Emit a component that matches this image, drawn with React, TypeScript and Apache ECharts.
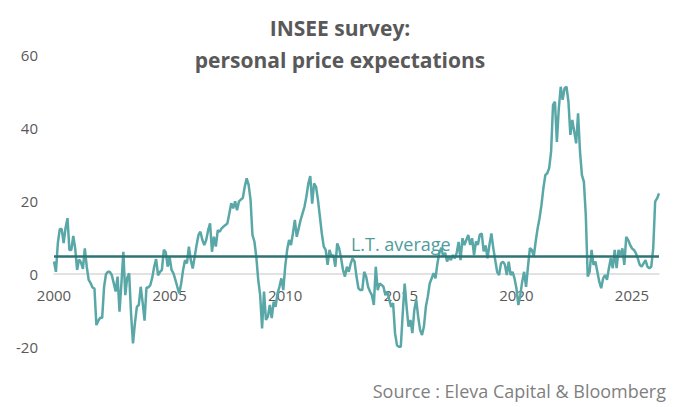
import React, { useEffect, useRef } from 'react';
import * as echarts from 'echarts';

// INSEE household survey, personal price expectations (balance of opinion), monthly from Jan 2000
const START_YEAR = 2000;
const PRICE_EXPECTATIONS: number[] = [
  3.4, 0.6, 8.5, 12.3, 12.3, 8.5, 12.6, 15.3, 6.6, 6.6, 10.4, 7, // 2000
  1.1, 4, 3.2, 1.4, 7, 2, -1.6, -2.5, -3.7, -4, -14, -12.8, // 2001
  -12, -12, -3.5, 0, 0.6, 0.6, -0.3, -2.5, -4.8, -0.7, -10.3, -2.5, // 2002
  6.1, -5.8, -1, 0.2, -11, -19, -13.5, -9, -8.5, -3.5, -7.8, -12.8, // 2003
  -3.7, -3.7, -3, -1, 2, 4.1, -0.4, 0.6, 1.1, 6.6, 6, 2, // 2004
  4.7, 1.1, 0.2, -1.6, -3.5, -5.3, -2.6, 1.1, 3.8, 2.9, 7.5, 3.8, // 2005
  1.5, 4.7, 7.9, 10.7, 11.6, 9.3, 7.9, 9.3, 12, 13.9, 6.1, 10.2, // 2006
  7.5, 12, 11.6, 12.5, 13, 13.4, 13.9, 16.6, 19.4, 18, 19.9, 17.5, // 2007
  19.9, 20.4, 20.8, 23.9, 26.2, 24.4, 20.4, 10.7, 8.9, 4.7, -1.6, -5.8, // 2008
  -14.9, -4.8, -12.6, -11.7, -8.5, -12.1, -7.6, -9, -5.3, -3.5, -1.2, -4.4, // 2009
  2, 6.6, 9.3, 7.9, 11.1, 14.8, 10.2, 12.5, 14.8, 16.6, 18.4, 21.2, // 2010
  24.8, 26.8, 19.3, 24.8, 23.9, 20.3, 15.7, 11.1, 7.5, 6.6, 2.5, 6.6, // 2011
  4.7, 5.2, 2, 8.4, 7, 4.3, 1.1, -0.7, 2, 0.6, 2.9, 4.3, // 2012
  3.4, -0.7, -3.9, -4.4, -4.4, 0.6, -0.7, -3.5, -4.8, -5.8, -8.5, 2, // 2013
  -4.4, -2.6, -3, -3.5, -5.8, -4.8, -7, -9, -8, -16.2, -19.5, -19.9, // 2014
  -19.9, -10.8, -2.6, -9, -14.4, -12.6, -16.2, -9.9, -7, -11.7, -15.3, -16.7, // 2015
  -14.4, -9, -6.2, -2.6, -1.2, 0.2, -1.2, 2.9, 5.8, 7.2, 4.8, 5.8, // 2016
  3.4, 4.8, 3.8, 5.2, 4.3, 5.8, 8.8, 3.8, 9.8, 7.9, 9.3, 10.7, // 2017
  8, 9.8, 5.2, 8.9, 8, 10.8, 11.1, 6.2, 7.8, 4.3, 8, 11.1, // 2018
  7.1, 3.8, 0.6, -0.3, 2.9, 3.4, 2.6, -0.3, 3.4, -0.3, 0.6, -1.2, // 2019
  -3.9, -8.5, -5.8, -2.1, 0.6, -3.5, 2, 7.1, 6.6, 4.8, 8.9, 12.5, // 2020
  15.3, 18.9, 23.5, 27.1, 27.6, 29, 33.5, 46.3, 47.2, 36.2, 45.4, 51.3, // 2021
  47.7, 50.9, 51.3, 47.2, 38.1, 42.2, 39, 35.8, 44, 33.5, 27.1, 25.3, // 2022
  16.2, -0.7, 0.6, 6.6, 2.5, 3.4, 0.6, -2.1, -3.9, -1.2, -0.3, -1.6, // 2023
  1.6, 4.3, 1.6, 6.6, 1.6, 6.6, 5.2, 7, 2.5, 10.2, 9.3, 8, // 2024
  7, 6.6, 5.7, 4.3, 2.5, 2, 2.9, 3.8, 2, 1.6, 2, 7, // 2025
  19.8, 20.7, 22.1, // 2026
];
const LT_AVERAGE = 5;

const Y_MIN = -20;
const Y_MAX = 60;
const Y_STEP = 20;

const MONTHS: string[] = PRICE_EXPECTATIONS.map((_, i) => {
  const y = START_YEAR + Math.floor(i / 12);
  const m = (i % 12) + 1;
  return `${y}-${m < 10 ? '0' + m : m}`;
});
const LABEL_EVERY = 60; // one x label every 5 years
const AVG_LABEL_AT = MONTHS[180];

const FONT = '"Open Sans", sans-serif';

const WIDTH = 680;
const HEIGHT = 407;
const GRID = { left: 54, right: 21, top: 55, bottom: 60 };

export default function App() {
  const chartRef = useRef<HTMLDivElement>(null);

  useEffect(() => {
    if (!chartRef.current) return;
    const chart = echarts.init(chartRef.current, null, { renderer: 'svg' });

    // x axis (line + labels) sits on the zero line
    const plotH = HEIGHT - GRID.top - GRID.bottom;
    const zeroOffset = -plotH * ((0 - Y_MIN) / (Y_MAX - Y_MIN));

    chart.setOption({
      animation: false,
      backgroundColor: '#ffffff',
      textStyle: { fontFamily: FONT },
      title: [
        {
          text: 'INSEE survey:\npersonal price expectations',
          left: 'center',
          top: 7,
          textStyle: {
            fontFamily: FONT,
            fontSize: 21,
            fontWeight: 'bold',
            color: '#595959',
            lineHeight: 32,
          },
        },
        {
          text: 'Source : Eleva Capital & Bloomberg',
          right: 9,
          top: 377,
          textStyle: {
            fontFamily: FONT,
            fontSize: 18,
            fontWeight: 'normal',
            color: '#7f7f7f',
          },
        },
      ],
      grid: { ...GRID, containLabel: false },
      xAxis: {
        type: 'category',
        data: MONTHS,
        boundaryGap: false,
        offset: zeroOffset,
        axisLine: { onZero: false, lineStyle: { color: '#d9d9d9', width: 1.5 } },
        axisTick: { show: false },
        splitLine: { show: false },
        axisLabel: {
          interval: (i: number) => i % LABEL_EVERY === 0,
          formatter: (v: string) => v.slice(0, 4),
          color: '#595959',
          fontSize: 15,
          margin: 13,
          fontFamily: FONT,
        },
      },
      yAxis: {
        type: 'value',
        min: Y_MIN,
        max: Y_MAX,
        interval: Y_STEP,
        axisLine: { show: false },
        axisTick: { show: false },
        splitLine: { show: false },
        axisLabel: { color: '#595959', fontSize: 15, margin: 16, fontFamily: FONT },
      },
      series: [
        {
          type: 'line',
          data: PRICE_EXPECTATIONS,
          symbol: 'none',
          lineStyle: { color: '#5aa7a7', width: 2.5 },
          itemStyle: { color: '#5aa7a7' },
          markLine: {
            silent: true,
            symbol: 'none',
            label: { show: false },
            lineStyle: { color: '#2f7373', width: 2.5, type: 'solid' },
            data: [{ yAxis: LT_AVERAGE }],
          },
          markPoint: {
            silent: true,
            symbol: 'circle',
            symbolSize: 0,
            itemStyle: { color: 'transparent' },
            label: {
              show: true,
              position: 'top',
              distance: 3,
              formatter: 'L.T. average',
              color: '#4f9c9c',
              fontSize: 18,
              fontFamily: FONT,
            },
            data: [{ coord: [AVG_LABEL_AT, LT_AVERAGE] }],
          },
        },
      ],
    });

    return () => {
      chart.dispose();
    };
  }, []);

  return (
    <div
      ref={chartRef}
      style={{ position: 'absolute', left: 0, top: 0, width: WIDTH, height: HEIGHT }}
    />
  );
}
